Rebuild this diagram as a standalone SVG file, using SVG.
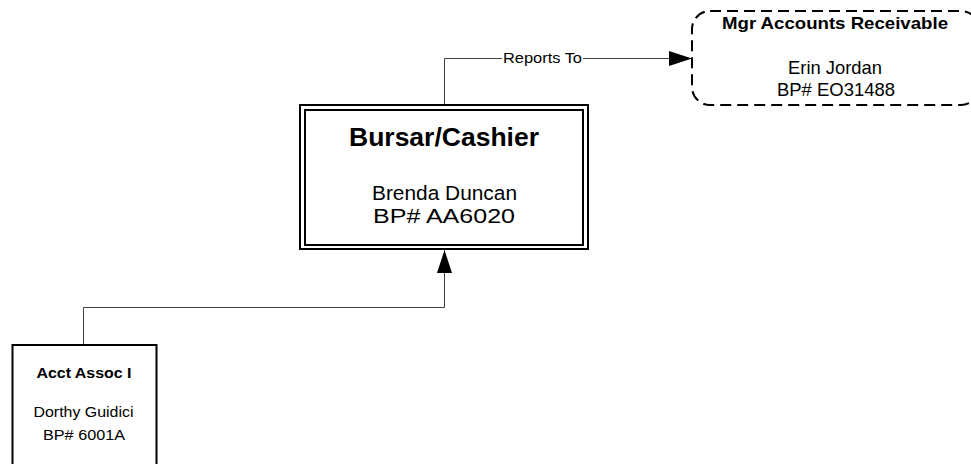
<svg xmlns="http://www.w3.org/2000/svg" width="971" height="464" viewBox="0 0 971 464">
<defs>
<style>
.box{fill:#fff;stroke:#000;stroke-width:2}
.dash{fill:#fff;stroke:#000;stroke-width:2;stroke-dasharray:11 6}
.conn{fill:none;stroke:#404040;stroke-width:1}
text{font-family:"Liberation Sans",Arial,sans-serif;fill:#000;text-anchor:middle}
.b{font-weight:bold}
</style>
<marker id="arr" markerUnits="userSpaceOnUse" markerWidth="24" markerHeight="16" refX="23" refY="7.5" orient="auto">
<path d="M0,0 L23,7.5 L0,15 z" fill="#000"/>
</marker>
</defs>
<rect width="971" height="464" fill="#fff"/>
<g id="connectors">
<path class="conn" d="M444.5,105 V58.5 H692" marker-end="url(#arr)"/>
<rect x="502" y="50" width="81" height="16" fill="#fff"/>
<text x="542.5" y="63" font-size="15" textLength="79" lengthAdjust="spacingAndGlyphs">Reports To</text>
<path class="conn" d="M83.5,345 V307.5 H444.5 V250" marker-end="url(#arr)"/>
</g>
<g id="node-mgr">
<rect class="dash" x="692" y="11" width="287" height="94" rx="18" ry="18"/>
<text class="b" x="835" y="29" font-size="17" textLength="226" lengthAdjust="spacingAndGlyphs">Mgr Accounts Receivable</text>
<text x="835" y="74" font-size="18.5" textLength="94" lengthAdjust="spacingAndGlyphs">Erin Jordan</text>
<text x="836" y="96" font-size="18.5" textLength="118" lengthAdjust="spacingAndGlyphs">BP# EO31488</text>
</g>
<g id="node-bursar">
<rect class="box" x="300" y="105" width="288" height="144"/>
<rect class="box" x="305" y="110" width="278" height="135"/>
<text class="b" x="444" y="146" font-size="25" textLength="190" lengthAdjust="spacingAndGlyphs">Bursar/Cashier</text>
<text x="444.5" y="200" font-size="20.5" textLength="145" lengthAdjust="spacingAndGlyphs">Brenda Duncan</text>
<text x="444" y="222.5" font-size="20.5" textLength="142" lengthAdjust="spacingAndGlyphs">BP# AA6020</text>
</g>
<g id="node-acct">
<rect class="box" x="12.5" y="345" width="144" height="130"/>
<text class="b" x="84" y="377.5" font-size="15" textLength="95" lengthAdjust="spacingAndGlyphs">Acct Assoc I</text>
<text x="83.5" y="416.5" font-size="15.5" textLength="100" lengthAdjust="spacingAndGlyphs">Dorthy Guidici</text>
<text x="84" y="440" font-size="15.5" textLength="82" lengthAdjust="spacingAndGlyphs">BP# 6001A</text>
</g>
</svg>
